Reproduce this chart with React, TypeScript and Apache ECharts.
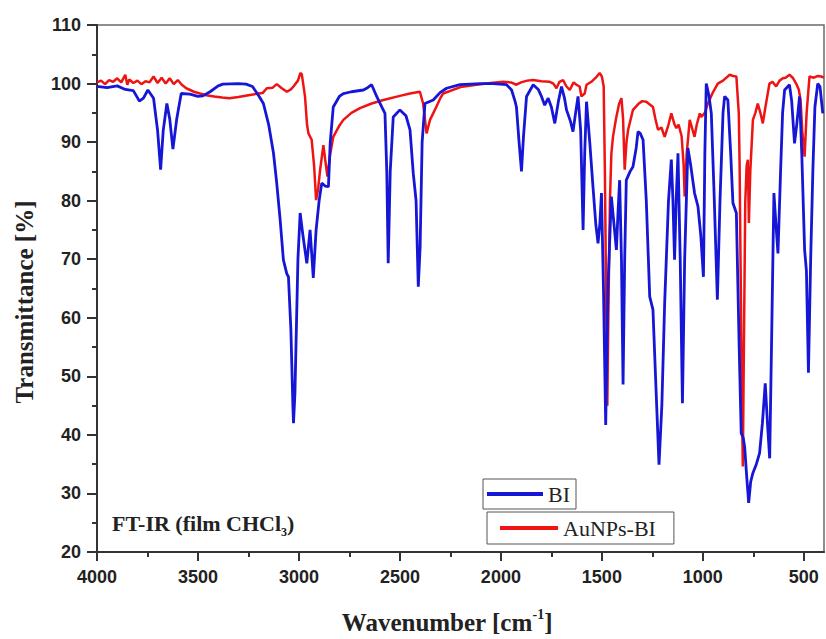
import React, { useEffect, useRef } from "react";
import * as echarts from "echarts";

// Wavenumber (cm-1) / transmittance (%)
const biSpectrum: number[][] = [
  [4000, 99.5], [3950, 99.3], [3900, 99.6], [3860, 99.0], [3820, 98.8], [3790, 97.0], [3770, 97.5],
  [3748, 98.9], [3720, 97.5], [3700, 92], [3685, 85.3], [3672, 92], [3654, 96.6], [3640, 94],
  [3624, 88.8], [3605, 94], [3583, 98.3], [3540, 98.2], [3500, 97.8], [3476, 97.9], [3440, 98.6],
  [3400, 99.6], [3377, 99.9], [3300, 100], [3262, 99.9], [3230, 99.5], [3197, 97.8], [3176, 96.6],
  [3150, 93], [3126, 88.1], [3110, 83], [3093, 76.7], [3077, 69.9], [3060, 67.5], [3052, 67],
  [3040, 58], [3030, 45], [3027, 42], [3020, 47], [3005, 70], [2994, 77.9], [2980, 74], [2961, 69.3],
  [2945, 75], [2935, 70], [2929, 66.8], [2915, 75], [2900, 80], [2887, 83], [2870, 82.5], [2854, 82.4],
  [2845, 90], [2830, 96], [2800, 97.8], [2780, 98.3], [2740, 98.6], [2681, 98.9], [2660, 99.3],
  [2640, 99.8], [2615, 97.8], [2590, 96], [2574, 94.9], [2565, 85], [2558, 69.3], [2548, 85],
  [2533, 94.3], [2500, 95.5], [2470, 94.5], [2450, 92.1], [2434, 84.7], [2420, 80], [2409, 65.3],
  [2400, 72], [2390, 90], [2376, 96.6], [2335, 97.2], [2300, 98.5], [2269, 99.2], [2203, 99.8],
  [2100, 100], [2038, 100], [1972, 99.8], [1947, 98.9], [1930, 97], [1923, 96], [1910, 90],
  [1898, 85], [1888, 91], [1873, 97.8], [1840, 99.8], [1815, 99], [1799, 97.8], [1783, 96.3],
  [1766, 97.5], [1750, 96], [1733, 93.2], [1715, 97], [1700, 99.5], [1685, 97.5], [1675, 95.5],
  [1655, 93.5], [1643, 91.8], [1630, 95], [1618, 97.8], [1605, 92], [1593, 75], [1585, 88],
  [1576, 96.9], [1560, 90], [1544, 82.4], [1530, 76], [1519, 72.7], [1510, 76], [1502, 81.3],
  [1492, 65], [1481, 41.7], [1470, 65], [1453, 80.7], [1440, 76], [1428, 71.6], [1420, 78],
  [1412, 83.5], [1403, 70], [1395, 48.6], [1387, 70], [1379, 83.5], [1360, 85], [1346, 85.8],
  [1330, 89], [1321, 91.8], [1310, 91.5], [1296, 90.4], [1280, 80], [1263, 63.6], [1247, 61.4],
  [1232, 48], [1217, 34.9], [1203, 45], [1189, 62.5], [1170, 80], [1156, 87], [1148, 80],
  [1140, 69.9], [1132, 80], [1123, 88.1], [1112, 70], [1101, 45.4], [1090, 70], [1074, 89],
  [1060, 86], [1041, 81.3], [1024, 79], [1010, 74], [997, 67], [990, 88], [983, 100], [970, 98],
  [958, 94.9], [945, 82], [928, 63.1], [915, 80], [900, 95], [892, 97.8], [876, 97.2], [862, 88],
  [851, 79.6], [834, 77.9], [820, 55], [810, 40.3], [800, 39.5], [793, 38], [783, 33], [773, 28.4],
  [763, 32], [752, 33.5], [735, 35], [719, 36.9], [705, 42], [691, 48.8], [680, 42], [669, 36],
  [660, 55], [648, 81.3], [638, 76], [628, 71], [615, 85], [605, 95], [595, 98.9], [571, 99.8],
  [560, 97], [546, 89.8], [535, 93], [521, 97.8], [510, 88], [496, 71.6], [487, 68], [477, 50.6],
  [466, 70], [455, 85.3], [445, 96], [431, 100], [420, 99.5], [406, 94.9],
];

const auSpectrum: number[][] = [
  [4000, 100.2], [3980, 100.5], [3960, 99.9], [3940, 100.6], [3920, 100.3], [3900, 100.9],
  [3880, 100.2], [3860, 101.5], [3850, 99.8], [3840, 100.7], [3820, 100.1], [3800, 100.5],
  [3780, 99.9], [3760, 100.4], [3740, 100.2], [3720, 101.2], [3700, 100.1], [3680, 101.0],
  [3660, 100.0], [3640, 100.9], [3620, 99.9], [3600, 100.6], [3580, 99.8], [3558, 99.2],
  [3520, 98.6], [3490, 98.3], [3459, 98.0], [3420, 97.8], [3380, 97.6], [3344, 97.5], [3300, 97.7],
  [3250, 98.0], [3200, 98.3], [3179, 98.4], [3159, 99.2], [3130, 99.3], [3110, 99.9], [3085, 99.2],
  [3060, 98.6], [3040, 99.0], [3027, 99.5], [3005, 100.5], [2993, 101.8], [2986, 101.6],
  [2970, 97.8], [2960, 93], [2953, 91.5], [2937, 90.4], [2925, 86], [2915, 80.1], [2905, 82],
  [2895, 85.3], [2879, 89.5], [2870, 87], [2859, 84.1], [2845, 88], [2830, 90.9], [2800, 92.8],
  [2780, 93.8], [2740, 95], [2698, 95.8], [2640, 96.6], [2582, 97.2], [2500, 97.9], [2450, 98.3],
  [2401, 98.6], [2385, 96.6], [2368, 91.5], [2351, 93.8], [2327, 95.5], [2300, 97.5], [2286, 98.3],
  [2200, 99.4], [2121, 99.8], [2050, 100.1], [1989, 100.3], [1950, 100.2], [1923, 99.8],
  [1900, 100.2], [1870, 100.5], [1840, 100.6], [1800, 100.4], [1758, 100.3], [1740, 100.0],
  [1725, 99.2], [1710, 100.3], [1692, 100.6], [1675, 99.5], [1659, 98.9], [1640, 100.2],
  [1626, 99.8], [1610, 99.5], [1601, 97.8], [1585, 98.3], [1576, 99.8], [1552, 100.3],
  [1530, 101.0], [1511, 101.8], [1500, 101.2], [1491, 99.5], [1485, 85], [1478, 60], [1473, 45],
  [1468, 60], [1460, 80], [1453, 88], [1445, 90.9], [1430, 94], [1415, 96.5], [1403, 97.5],
  [1395, 94], [1387, 85.3], [1378, 90], [1370, 92.1], [1346, 95.5], [1320, 96.5], [1300, 97],
  [1280, 96.9], [1247, 96], [1235, 94], [1222, 92.1], [1205, 92.5], [1189, 90.9], [1170, 93],
  [1156, 94.9], [1140, 93], [1131, 92.4], [1120, 93], [1105, 91], [1095, 86], [1090, 80.7],
  [1080, 88], [1065, 93.8], [1050, 92], [1041, 90.9], [1030, 93], [1015, 94.9], [1008, 94.3],
  [990, 95], [975, 96.6], [950, 98.5], [926, 100], [900, 100.5], [867, 101.5], [850, 101.3],
  [834, 101.2], [822, 95], [818, 86.4], [812, 65], [806, 45], [802, 34.6], [798, 50], [790, 79.6],
  [783, 86], [777, 87], [772, 76.2], [765, 85], [752, 93.8], [740, 95], [728, 96.6], [715, 95],
  [703, 93.2], [690, 96], [670, 100], [655, 100.3], [637, 99.5], [620, 100.5], [604, 100.9],
  [590, 101], [571, 101.5], [555, 101], [538, 100], [525, 99], [516, 97.2], [508, 92], [496, 87.5],
  [486, 95], [472, 101.2], [450, 101], [430, 101.3], [414, 101.2], [400, 101.0],
];

const xMajorTicks = [4000, 3500, 3000, 2500, 2000, 1500, 1000, 500];
const xMinorTicks = [3750, 3250, 2750, 2250, 1750, 1250, 750];
const seriesNames = ["BI", "AuNPs-BI"];

const SANS = "'Liberation Sans', Arial, sans-serif";
const SERIF = "'Liberation Serif', 'Times New Roman', serif";

export default function App() {
  const ref = useRef<HTMLDivElement>(null);
  useEffect(() => {
    if (!ref.current) return;
    const chart = echarts.init(ref.current, undefined, { renderer: "svg" });
    const xCommon = {
      type: "value" as const,
      min: 400,
      max: 4000,
      inverse: true,
      position: "bottom" as const,
      splitLine: { show: false },
    };
    const tickLabel = {
      fontSize: 18,
      fontWeight: "bold" as const,
      fontFamily: SANS,
      color: "#222",
      formatter: (v: number) => String(v),
    };
    chart.setOption({
      animation: false,
      backgroundColor: "#fff",
      grid: {
        left: 97,
        right: 2,
        top: 25,
        bottom: 87,
        show: true,
        borderColor: "#6a6a6a",
        borderWidth: 1.5,
      },
      xAxis: [
        {
          ...xCommon,
          axisLine: { show: true, lineStyle: { color: "#333", width: 2 } },
          axisTick: { show: true, customValues: xMajorTicks, length: 9, lineStyle: { color: "#333", width: 2 } },
          axisLabel: { ...tickLabel, customValues: xMajorTicks, margin: 16 },
        },
        {
          ...xCommon,
          axisLine: { show: false },
          axisTick: { show: true, customValues: xMinorTicks, length: 5, lineStyle: { color: "#333", width: 2 } },
          axisLabel: { show: false },
        },
      ],
      yAxis: {
        type: "value",
        min: 20,
        max: 110,
        interval: 10,
        splitLine: { show: false },
        axisLine: { show: true, lineStyle: { color: "#333", width: 2 } },
        axisTick: { show: true, length: 10, lineStyle: { color: "#333", width: 2 } },
        minorTick: { show: true, splitNumber: 2, length: 5, lineStyle: { color: "#333", width: 2 } },
        axisLabel: { ...tickLabel, margin: 16 },
      },
      legend: [
        {
          data: [seriesNames[0]],
          left: 483,
          top: 479,
          padding: [4, 6, 4, 4],
          itemWidth: 56,
          itemHeight: 4,
          icon: "rect",
          selectedMode: false,
          borderColor: "#555",
          borderWidth: 1,
          textStyle: { fontFamily: SERIF, fontSize: 22, color: "#222" },
        },
        {
          data: [seriesNames[1]],
          left: 487,
          top: 512,
          padding: [5, 18, 5, 13],
          itemWidth: 58,
          itemHeight: 4,
          icon: "rect",
          selectedMode: false,
          borderColor: "#555",
          borderWidth: 1,
          textStyle: { fontFamily: SERIF, fontSize: 22, color: "#222" },
        },
      ],
      graphic: [
        {
          type: "text",
          x: 24,
          y: 302,
          rotation: Math.PI / 2,
          style: {
            text: "Transmittance [%]",
            fontFamily: SERIF,
            fontWeight: "bold",
            fontSize: 25,
            fill: "#222",
            align: "center",
            verticalAlign: "middle",
          },
        },
        {
          type: "text",
          x: 447,
          y: 622,
          style: {
            text: "{a|Wavenumber [cm}{s|-1}{a|]}",
            align: "center",
            verticalAlign: "middle",
            rich: {
              a: { fontFamily: SERIF, fontWeight: "bold", fontSize: 25, lineHeight: 30, fill: "#222" },
              s: { fontFamily: SERIF, fontWeight: "bold", fontSize: 14, lineHeight: 12, fill: "#222", verticalAlign: "top" },
            },
          },
        },
        {
          type: "text",
          x: 112,
          y: 523,
          style: {
            text: "{a|FT-IR (film CHCl}{b|3}{a|)}",
            align: "left",
            verticalAlign: "middle",
            rich: {
              a: { fontFamily: SERIF, fontWeight: "bold", fontSize: 22, lineHeight: 30, fill: "#222" },
              b: { fontFamily: SERIF, fontWeight: "bold", fontSize: 12, lineHeight: 12, fill: "#222", verticalAlign: "bottom" },
            },
          },
        },
      ],
      series: [
        {
          name: seriesNames[1],
          type: "line",
          xAxisIndex: 0,
          data: auSpectrum,
          showSymbol: false,
          color: "#ee1414",
          lineStyle: { color: "#ee1414", width: 2.5 },
          z: 2,
        },
        {
          name: seriesNames[0],
          type: "line",
          xAxisIndex: 0,
          data: biSpectrum,
          showSymbol: false,
          color: "#1616d6",
          lineStyle: { color: "#1616d6", width: 2.8 },
          z: 3,
        },
      ],
    });
    return () => chart.dispose();
  }, []);
  return (
    <div
      ref={ref}
      style={{ position: "fixed", left: 0, top: 0, width: 826, height: 639, background: "#fff" }}
    />
  );
}
